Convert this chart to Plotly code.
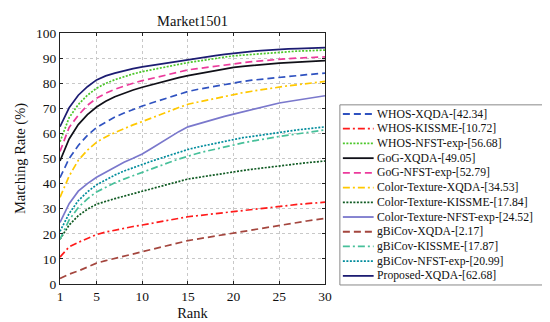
import plotly.graph_objects as go

ranks = list(range(1, 31))

series_names = [
    "WHOS-XQDA-[42.34]",
    "WHOS-KISSME-[10.72]",
    "WHOS-NFST-exp-[56.68]",
    "GoG-XQDA-[49.05]",
    "GoG-NFST-exp-[52.79]",
    "Color-Texture-XQDA-[34.53]",
    "Color-Texture-KISSME-[17.84]",
    "Color-Texture-NFST-exp-[24.52]",
    "gBiCov-XQDA-[2.17]",
    "gBiCov-KISSME-[17.87]",
    "gBiCov-NFST-exp-[20.99]",
    "Proposed-XQDA-[62.68]",
]

whos_xqda = [42.34, 50.0, 55.2, 59.2, 62.4, 64.6, 66.5, 68.1, 69.6, 70.9, 72.1, 73.3, 74.5, 75.6, 76.7,
             77.5, 78.2, 78.9, 79.6, 80.2, 80.7, 81.2, 81.6, 82.0, 82.4, 82.8, 83.1, 83.4, 83.7, 84.0]
whos_kissme = [10.72, 14.8, 16.6, 18.3, 19.7, 20.7, 21.5, 22.2, 22.9, 23.5, 24.2, 24.9, 25.5, 26.2, 26.8,
               27.2, 27.6, 28.1, 28.6, 29.0, 29.5, 29.9, 30.3, 30.7, 31.1, 31.4, 31.7, 32.0, 32.3, 32.6]
whos_nfst = [56.68, 66.3, 71.5, 75.2, 78.0, 79.9, 81.4, 82.6, 83.7, 84.6, 85.4, 86.1, 86.8, 87.5, 88.2,
             88.8, 89.4, 89.9, 90.4, 90.9, 91.2, 91.5, 91.8, 92.1, 92.4, 92.6, 92.8, 92.9, 93.1, 93.2]
gog_xqda = [49.05, 57.8, 63.5, 67.5, 70.5, 72.8, 74.6, 76.1, 77.3, 78.4, 79.4, 80.4, 81.3, 82.2, 83.0,
            83.7, 84.4, 85.0, 85.7, 86.3, 86.7, 87.1, 87.4, 87.7, 88.0, 88.2, 88.4, 88.6, 88.8, 89.0]
gog_nfst = [52.79, 62.4, 67.2, 71.2, 74.0, 76.0, 77.6, 78.9, 80.0, 81.0, 81.9, 82.8, 83.6, 84.5, 85.3,
            85.8, 86.3, 86.8, 87.3, 87.8, 88.2, 88.6, 88.9, 89.3, 89.6, 89.8, 90.0, 90.2, 90.4, 90.5]
ct_xqda = [34.53, 43.0, 49.3, 53.3, 56.5, 58.6, 60.3, 61.9, 63.4, 64.7, 66.2, 67.6, 68.9, 70.3, 71.6,
           72.4, 73.2, 74.0, 74.8, 75.5, 76.2, 76.8, 77.4, 78.0, 78.6, 79.0, 79.4, 79.8, 80.3, 80.7]
ct_kissme = [17.84, 23.5, 27.2, 29.8, 31.8, 33.0, 34.0, 35.0, 35.9, 36.8, 37.9, 38.9, 39.9, 40.9, 41.8,
             42.4, 43.0, 43.6, 44.2, 44.7, 45.2, 45.7, 46.2, 46.7, 47.1, 47.5, 47.9, 48.3, 48.7, 49.0]
ct_nfst = [24.52, 32.0, 37.0, 40.0, 42.5, 44.6, 46.6, 48.5, 50.1, 51.8, 54.0, 56.3, 58.5, 60.7, 62.6,
           63.7, 64.8, 65.8, 66.8, 67.7, 68.6, 69.5, 70.4, 71.3, 72.1, 72.7, 73.3, 73.9, 74.5, 75.0]
gb_xqda = [2.17, 3.9, 5.2, 6.8, 8.3, 9.3, 10.2, 11.0, 11.9, 12.7, 13.7, 14.6, 15.5, 16.4, 17.3,
           17.9, 18.5, 19.1, 19.7, 20.3, 20.9, 21.6, 22.2, 22.9, 23.5, 24.0, 24.5, 25.1, 25.6, 26.1]
gb_kissme = [17.87, 25.5, 30.5, 33.9, 36.7, 38.6, 40.3, 41.8, 43.2, 44.4, 45.8, 47.2, 48.5, 49.8, 51.0,
             52.0, 52.9, 53.8, 54.7, 55.5, 56.2, 56.9, 57.6, 58.2, 58.8, 59.3, 59.8, 60.4, 60.9, 61.4]
gb_nfst = [20.99, 28.1, 33.2, 36.7, 39.5, 41.6, 43.4, 45.0, 46.4, 47.7, 48.9, 50.1, 51.3, 52.5, 53.6,
           54.5, 55.3, 56.1, 56.9, 57.7, 58.3, 58.8, 59.4, 59.9, 60.4, 60.9, 61.4, 61.8, 62.2, 62.6]
proposed_xqda = [62.68, 70.2, 75.2, 78.6, 81.3, 82.9, 84.0, 85.0, 85.8, 86.5, 87.1, 87.7, 88.2, 88.8, 89.3,
                 89.9, 90.5, 91.0, 91.5, 92.0, 92.3, 92.7, 93.0, 93.3, 93.6, 93.7, 93.8, 93.9, 94.0, 94.2]

x_ticks = [1, 5, 10, 15, 20, 25, 30]
y_ticks = [0, 10, 20, 30, 40, 50, 60, 70, 80, 90, 100]

series_values = [whos_xqda, whos_kissme, whos_nfst, gog_xqda, gog_nfst, ct_xqda,
                 ct_kissme, ct_nfst, gb_xqda, gb_kissme, gb_nfst, proposed_xqda]

DASH = "7px,4px"
DOT = "2px,1.5px"
DASHDOT = "7px,3px,2px,3px"
styles = [
    ("#2f52c0", DASH),
    ("#ff1a1a", DASHDOT),
    ("#4cc72a", DOT),
    ("#101018", "solid"),
    ("#ec3a9c", DASH),
    ("#ffc800", DASHDOT),
    ("#0f5a22", DOT),
    ("#7a78cc", "solid"),
    ("#a4463e", DASH),
    ("#47c09a", DASHDOT),
    ("#008c9c", DOT),
    ("#1c1c72", "solid"),
]

W, H = 550, 322
L, R, T, B = 50, 233, 25, 42
PW, PH = W - L - R, H - T - B

def px2x(px):
    return (px - L) / PW

def px2y(py):
    return (H - B - py) / PH

FONT = "'Liberation Serif', 'Times New Roman', Times, serif"

fig = go.Figure()
for name, vals, (col, dash) in zip(series_names, series_values, styles):
    fig.add_trace(go.Scatter(x=ranks, y=vals, mode="lines", name=name,
                             line=dict(color=col, width=1.7, dash=dash),
                             showlegend=False))

shapes = []
annotations = []
# legend box
shapes.append(dict(type="rect", xref="paper", yref="paper",
                   x0=px2x(332), x1=px2x(539), y0=px2y(281), y1=px2y(98),
                   line=dict(color="#888888", width=1), fillcolor="white", layer="above"))
for i, (name, (col, dash)) in enumerate(zip(series_names, styles)):
    yc = 107.3 + i * 14.95
    shapes.append(dict(type="line", xref="paper", yref="paper",
                       x0=px2x(335), x1=px2x(366), y0=px2y(yc), y1=px2y(yc),
                       line=dict(color=col, width=1.8, dash=dash), layer="above"))
    annotations.append(dict(text=name, xref="paper", yref="paper",
                            x=px2x(367), y=px2y(yc), xanchor="left", yanchor="middle",
                            showarrow=False, font=dict(family=FONT, size=11.7, color="#111111")))

fig.update_layout(
    width=W, height=H,
    margin=dict(l=L, r=R, t=T, b=B),
    paper_bgcolor="white", plot_bgcolor="white",
    font=dict(family=FONT, size=13.5, color="#111111"),
    title=dict(text="Market1501", x=0.5, xref="paper", y=1 - 13 / H, yref="container",
               xanchor="center", yanchor="middle", font=dict(family=FONT, size=14.5)),
    shapes=shapes, annotations=annotations,
)
fig.update_xaxes(range=[1, 30], tickvals=x_ticks, ticktext=[str(v) for v in x_ticks],
                 showgrid=True, gridcolor="#c8c8c8", griddash="dot", gridwidth=1,
                 showline=True, linecolor="#222222", linewidth=1, mirror="allticks",
                 ticks="inside", ticklen=3, tickcolor="#222222", zeroline=False,
                 title=dict(text="Rank", font=dict(family=FONT, size=14.5), standoff=4),
                 tickfont=dict(family=FONT, size=13.5))
fig.update_yaxes(range=[0, 100], tickvals=y_ticks, ticktext=[str(v) for v in y_ticks],
                 showgrid=True, gridcolor="#c8c8c8", griddash="dot", gridwidth=1,
                 showline=True, linecolor="#222222", linewidth=1, mirror="allticks",
                 ticks="inside", ticklen=3, tickcolor="#222222", zeroline=False,
                 title=dict(text="Matching Rate (%)", font=dict(family=FONT, size=14.5), standoff=6),
                 tickfont=dict(family=FONT, size=13.5))

fig.write_html("out.html")
